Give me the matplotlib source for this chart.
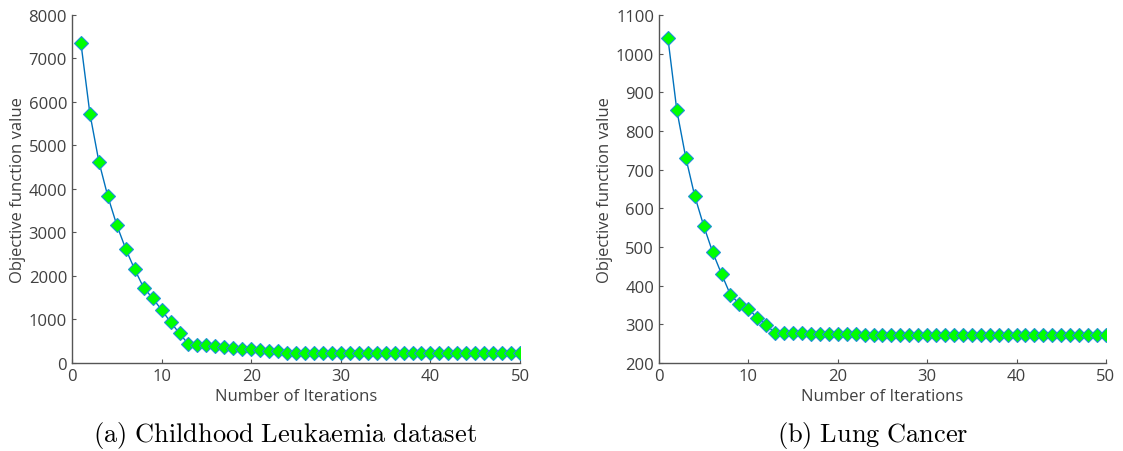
import numpy as np
import matplotlib.pyplot as plt

plt.rcParams['font.family'] = ['Open Sans', 'DejaVu Sans']
plt.rcParams['mathtext.fontset'] = 'cm'

iters = np.arange(1, 51)

# Childhood Leukaemia objective values
leuk = [7350, 5730, 4630, 3830, 3170, 2620, 2150, 1730, 1490, 1220,
        940, 680, 430, 410, 410, 380, 360, 350, 320, 320,
        290, 270, 270, 240, 225] + [225] * 25

# Lung Cancer objective values
lung = [1040, 853, 731, 632, 555, 487, 430, 376, 353, 340,
        317, 299, 277, 278, 278, 278, 276, 276, 275, 275,
        275, 274, 272, 272] + [272] * 26

captions = [r'$\mathrm{(a)\ Childhood\ Leukaemia\ dataset}$', r'$\mathrm{(b)\ Lung\ Cancer}$']
cap_x = [285 / 1123, 873 / 1123]

fig = plt.figure(figsize=(11.23, 4.52), dpi=100)
ax1 = fig.add_axes([0.0641, 0.1947, 0.399, 0.770])
ax2 = fig.add_axes([0.5868, 0.1947, 0.398, 0.770])

tc = '#404040'
for ax, y, cap, cx, ylim, step in [(ax1, leuk, captions[0], cap_x[0], (0, 8000), 1000),
                                   (ax2, lung, captions[1], cap_x[1], (200, 1100), 100)]:
    ax.plot(iters, y, color='#0072BD', lw=1.0, marker='D', markersize=7,
            markerfacecolor='#00FF00', markeredgecolor='#1E90D8', markeredgewidth=0.8)
    ax.set_xlim(0, 50)
    ax.set_ylim(*ylim)
    ax.set_xticks(np.arange(0, 51, 10))
    ax.set_yticks(np.arange(ylim[0], ylim[1] + 1, step))
    for s in ['top', 'right']:
        ax.spines[s].set_visible(False)
    for s in ['left', 'bottom']:
        ax.spines[s].set_color('#555555')
        ax.spines[s].set_linewidth(1.0)
    ax.tick_params(direction='in', length=3, colors='#555555', labelcolor=tc, labelsize=12)
    ax.set_xlabel('Number of Iterations', fontsize=12, color=tc, labelpad=3)
    ax.set_ylabel('Objective function value', fontsize=12, color=tc, labelpad=2)
    fig.text(cx, 0.036, cap, ha='center', va='center', fontsize=19)

fig.savefig('out.png', dpi=100)
